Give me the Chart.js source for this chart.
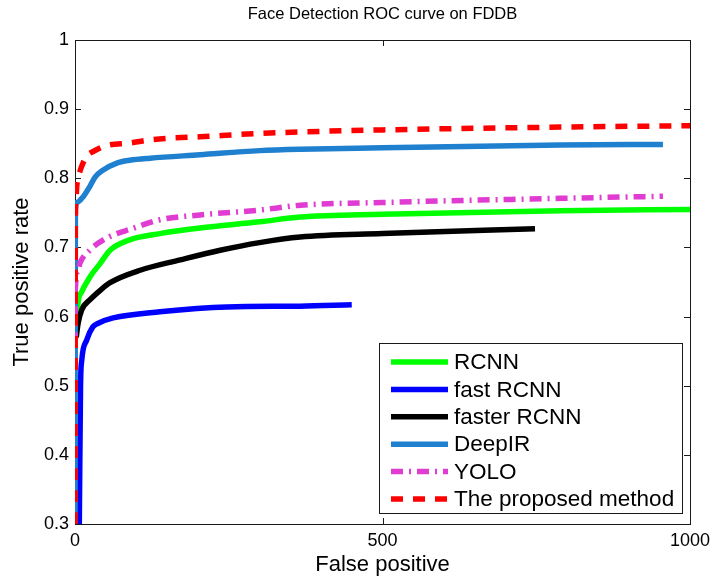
<!DOCTYPE html>
<html>
<head>
<meta charset="utf-8">
<script src="https://cdn.jsdelivr.net/npm/chart.js@4.4.1/dist/chart.umd.min.js"></script>
<style>
  html, body { margin: 0; padding: 0; background: #fff; }
  #wrap { width: 712px; height: 581px; }
</style>
</head>
<body>
<div id="wrap"><canvas id="roc" width="712" height="581"></canvas></div>
<script>
// axis ticks
var xTicks = [0, 500, 1000];
var yTicks = [0.3, 0.4, 0.5, 0.6, 0.7, 0.8, 0.9, 1];

// series names (legend order)
var names = ["RCNN", "fast RCNN", "faster RCNN", "DeepIR", "YOLO", "The proposed method"];

// values
var rcnnX = [2, 5, 11, 24, 41, 57, 89, 138, 203, 300, 366, 500, 789, 1000];
var rcnnY = [0.58, 0.62, 0.636, 0.657, 0.677, 0.696, 0.711, 0.72, 0.728, 0.737, 0.744, 0.748, 0.753, 0.755];

var fastX = [7, 9, 11, 19, 29, 37, 62, 138, 247, 366, 450];
var fastY = [0.3, 0.5, 0.537, 0.566, 0.585, 0.59, 0.598, 0.607, 0.614, 0.615, 0.617];

var fasterX = [2, 5, 11, 24, 41, 57, 106, 171, 236, 300, 366, 500, 748];
var fasterY = [0.57, 0.59, 0.61, 0.624, 0.638, 0.649, 0.667, 0.682, 0.696, 0.707, 0.715, 0.72, 0.727];

var deepX = [0, 0.6, 3, 13, 24, 33, 46, 68, 89, 122, 203, 300, 366, 500, 789, 956];
var deepY = [0.3, 0.755, 0.765, 0.773, 0.788, 0.802, 0.812, 0.822, 0.826, 0.829, 0.834, 0.84, 0.842, 0.844, 0.848, 0.849];

var yoloX = [0, 0.6, 5, 8, 24, 46, 68, 89, 138, 203, 300, 366, 500, 789, 956];
var yoloY = [0.56, 0.64, 0.667, 0.677, 0.696, 0.711, 0.72, 0.726, 0.74, 0.747, 0.754, 0.761, 0.765, 0.771, 0.774];

var propX = [0, 0.6, 1.5, 3, 8, 13, 21, 28, 50, 89, 117, 154, 203, 280, 366, 500, 789, 1000];
var propY = [0.3, 0.74, 0.77, 0.79, 0.81, 0.822, 0.834, 0.838, 0.847, 0.851, 0.855, 0.858, 0.86, 0.864, 0.867, 0.87, 0.874, 0.876];

var colors = ["#00ff00", "#0000ff", "#000000", "#1f80cf", "#e03cd2", "#ff0000"];
var dashes = [[], [], [], [], [12, 6, 2, 6], [12, 10]];

function pts(xs, ys) {
  return xs.map(function (x, i) { return { x: x, y: ys[i] }; });
}

var series = [
  pts(rcnnX, rcnnY),
  pts(fastX, fastY),
  pts(fasterX, fasterY),
  pts(deepX, deepY),
  pts(yoloX, yoloY),
  pts(propX, propY)
];

var FONT = "'Liberation Sans', Arial, Helvetica, sans-serif";

var datasets = series.map(function (d, i) {
  return {
    label: names[i],
    data: d,
    borderColor: colors[i],
    backgroundColor: colors[i],
    borderWidth: 5.5,
    borderDash: dashes[i],
    pointRadius: 0,
    cubicInterpolationMode: "monotone",
    fill: false,
    clip: 0,
    // last series drawn on top, like the original
    order: names.length - i
  };
});

// axes box, inward tick marks, title and legend
var frame = {
  id: "frame",
  beforeDatasetsDraw: function (chart) {
    var c = chart.ctx, a = chart.chartArea;
    var sx = chart.scales.x, sy = chart.scales.y;
    c.save();
    c.strokeStyle = "#1a1a1a";
    c.lineWidth = 1;
    c.strokeRect(Math.round(a.left) + 0.5, Math.round(a.top) + 0.5,
      Math.round(a.right - a.left), Math.round(a.bottom - a.top));
    c.beginPath();
    xTicks.forEach(function (v) {
      var px = Math.round(sx.getPixelForValue(v)) + 0.5;
      c.moveTo(px, a.bottom); c.lineTo(px, a.bottom - 6);
      c.moveTo(px, a.top); c.lineTo(px, a.top + 6);
    });
    yTicks.forEach(function (v) {
      var py = Math.round(sy.getPixelForValue(v)) + 0.5;
      c.moveTo(a.left, py); c.lineTo(a.left + 6, py);
      c.moveTo(a.right, py); c.lineTo(a.right - 6, py);
    });
    c.stroke();

    // title
    c.fillStyle = "#000";
    c.font = "16.5px " + FONT;
    c.textAlign = "center";
    c.textBaseline = "middle";
    c.fillText("Face Detection ROC curve on FDDB", (a.left + a.right) / 2, 14);
    c.restore();
  },
  afterDatasetsDraw: function (chart) {
    var c = chart.ctx, a = chart.chartArea;
    var w = 303, h = 170;
    var left = a.right - 8 - w, top = a.bottom - 11 - h;
    c.save();
    c.fillStyle = "#fff";
    c.fillRect(left, top, w, h);
    c.strokeStyle = "#1a1a1a";
    c.lineWidth = 1;
    c.strokeRect(Math.round(left) + 0.5, Math.round(top) + 0.5, w, h);
    c.font = "22.5px " + FONT;
    c.textAlign = "left";
    c.textBaseline = "middle";
    chart.data.datasets.forEach(function (ds, i) {
      var y = top + 19 + i * 27.4;
      c.beginPath();
      c.strokeStyle = ds.borderColor;
      c.lineWidth = 5.5;
      c.setLineDash(ds.borderDash);
      c.moveTo(left + 12, y);
      c.lineTo(left + 69, y);
      c.stroke();
      c.setLineDash([]);
      c.fillStyle = "#000";
      c.fillText(ds.label, left + 75, y + 1);
    });
    c.restore();
  }
};

new Chart(document.getElementById("roc"), {
  type: "line",
  data: { datasets: datasets },
  options: {
    responsive: false,
    animation: false,
    events: [],
    layout: { padding: { top: 40, right: 22, left: 0, bottom: 0 } },
    plugins: {
      legend: { display: false },
      title: { display: false },
      tooltip: { enabled: false }
    },
    scales: {
      x: {
        type: "linear",
        min: 0,
        max: 1000,
        afterFit: function (s) {
          s.height = 57;
          s.paddingLeft = 0;
          s.paddingRight = 0;
        },
        afterBuildTicks: function (s) { s.ticks = xTicks.map(function (v) { return { value: v }; }); },
        grid: { display: false, drawTicks: false },
        border: { display: false },
        ticks: {
          color: "#000",
          font: { family: FONT, size: 18 },
          padding: 6,
          maxRotation: 0,
          callback: function (v) { return String(v); }
        },
        title: {
          display: true,
          text: "False positive",
          color: "#000",
          font: { family: FONT, size: 22 },
          padding: { top: 0, bottom: 3 }
        }
      },
      y: {
        type: "linear",
        min: 0.3,
        max: 1,
        afterFit: function (s) {
          s.width = 75;
          s.paddingTop = 0;
          s.paddingBottom = 0;
        },
        afterBuildTicks: function (s) { s.ticks = yTicks.map(function (v) { return { value: v }; }); },
        grid: { display: false, drawTicks: false },
        border: { display: false },
        ticks: {
          color: "#000",
          font: { family: FONT, size: 18 },
          padding: 6,
          callback: function (v) { return String(Number(v.toFixed(1))); }
        },
        title: {
          display: true,
          text: "True positive rate",
          color: "#000",
          font: { family: FONT, size: 22 },
          padding: { top: 9, bottom: 0 }
        }
      }
    }
  },
  plugins: [frame]
});
</script>
</body>
</html>
